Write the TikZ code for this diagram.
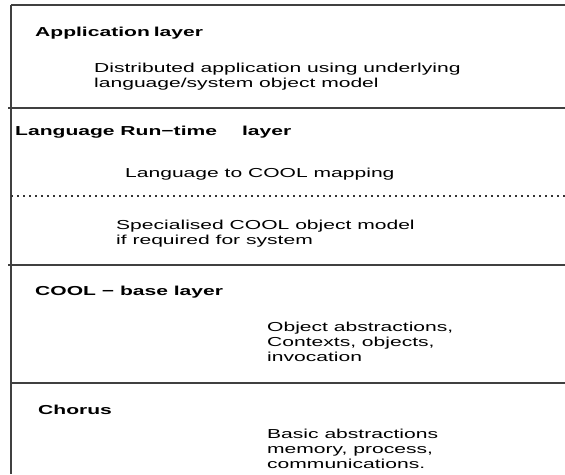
\documentclass[tikz,border=0pt]{standalone}
\usepackage{fontspec}
\setmainfont[FakeStretch=1.62]{Liberation Sans}
\begin{document}
\begin{tikzpicture}[x=1pt,y=-1pt,
  rule/.style={line width=1.3pt, draw=black!75},
  dotrule/.style={line width=1.6pt, draw=black!80, dash pattern=on 2pt off 4pt},
  txt/.style={anchor=base west, inner sep=0pt, font=\fontsize{13}{15}\selectfont},
  head/.style={anchor=base west, inner sep=0pt, font=\fontsize{13}{15}\selectfont\bfseries}]
\useasboundingbox (0,0) rectangle (565,474);
% frame lines
\coordinate (tl) at (11,5);  \coordinate (tr) at (565,5);
\coordinate (bl) at (11,474);
\coordinate (l1) at (8,108);  \coordinate (r1) at (565,108);
\coordinate (d1) at (11,196); \coordinate (e1) at (565,196);
\coordinate (l2) at (8,265);  \coordinate (r2) at (565,265);
\coordinate (l3) at (11,383); \coordinate (r3) at (565,383);
\draw[rule] (tl) -- (tr);
\draw[rule] (tl) -- (bl);
\draw[rule] (l1) -- (r1);
\draw[rule] (l2) -- (r2);
\draw[rule] (l3) -- (r3);
\draw[dotrule] (d1) -- (e1);
% texts
\node[head] (h1) at (35,36) {Application\hspace{4pt}layer};
\node[txt] (a1) at (94,72) {Distributed application using underlying};
\node[txt] (a2) at (94,87) {language/system object model};
\node[head] (h2) at (15,135) {Language Run−time\hspace{25pt}layer};
\node[txt] (b1) at (125,177) {Language to COOL mapping};
\node[txt] (c1) at (116,229) {Specialised COOL object model};
\node[txt] (c2) at (116,244) {if required for system};
\node[head] (h3) at (35,295) {COOL − base layer};
\node[txt] (o1) at (267,331) {Object abstractions,};
\node[txt] (o2) at (267,346) {Contexts, objects,};
\node[txt] (o3) at (267,361) {invocation};
\node[head] (h4) at (38,414) {Chorus};
\node[txt] (k1) at (267,438) {Basic abstractions};
\node[txt] (k2) at (267,453) {memory, process,};
\node[txt] (k3) at (267,468) {communications.};
\end{tikzpicture}
\end{document}
